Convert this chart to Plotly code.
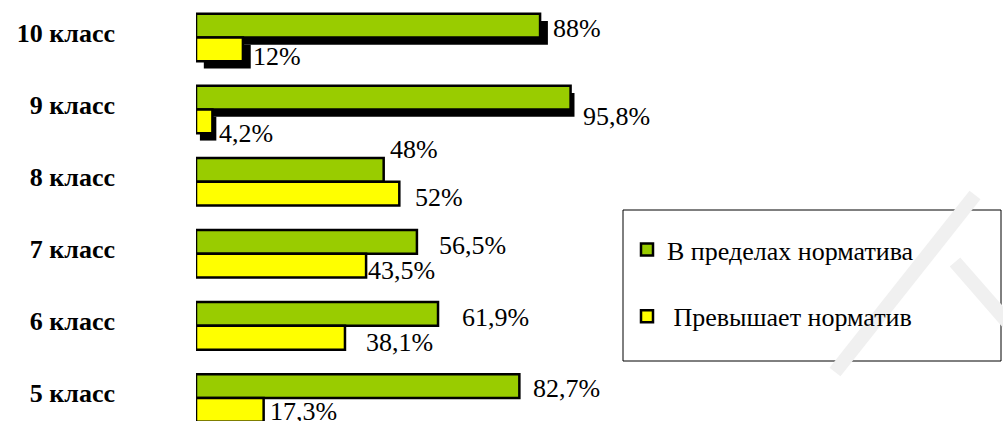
import plotly.graph_objects as go

# ---------------- data ----------------
classes = ["10 класс", "9 класс", "8 класс", "7 класс", "6 класс", "5 класс"]
within_norm = [88, 95.8, 48, 56.5, 61.9, 82.7]      # В пределах норматива, %
above_norm = [12, 4.2, 52, 43.5, 38.1, 17.3]        # Превышает норматив, %
series_names = ["В пределах норматива", "\u00a0Превышает норматив"]
shadow_classes = ["10 класс", "9 класс"]

# ---------------- style ----------------
W, H = 1003, 421
L_MARGIN, PLOT_W = 196, 391
GREEN, YELLOW = "#99CC00", "#FFFF00"
FONT = "Times New Roman, Liberation Serif, serif"
FS = 26
BW = 0.33
shadow_dx = {"10 класс": 2.0, "9 класс": 1.0}
shadow_dy = 0.1
# per-label pixel shifts (xshift, yshift): green, yellow
green_shift = {"10 класс": (11, 8.5), "9 класс": (10, -6.5), "8 класс": (4, 32),
               "7 класс": (20, 8), "6 класс": (22, 8), "5 класс": (12, 9)}
yellow_shift = {"10 класс": (8, -19.5), "9 класс": (5, -23.5), "8 класс": (14, -15.5),
                "7 класс": (0, -16.5), "6 класс": (19, -17), "5 класс": (4, -14)}


def px(x, y):
    """pixel -> paper coordinates"""
    return (x - L_MARGIN) / PLOT_W, 1 - y / H


def fmt(v):
    return f"{v:g}".replace(".", ",") + "%"


fig = go.Figure()

# shadows
sh_idx = [classes.index(c) for c in shadow_classes]
for vals, off in ((within_norm, -BW), (above_norm, 0.0)):
    fig.add_trace(go.Bar(
        y=shadow_classes, x=[vals[i] for i in sh_idx],
        base=[shadow_dx[c] for c in shadow_classes],
        orientation="h", width=BW, offset=off + shadow_dy,
        marker=dict(color="black", line=dict(width=0)),
        showlegend=False, hoverinfo="skip"))

# main bars
for vals, name, col, off in ((within_norm, series_names[0], GREEN, -BW),
                             (above_norm, series_names[1], YELLOW, 0.0)):
    fig.add_trace(go.Bar(
        y=classes, x=vals, orientation="h", name=name,
        legendgroup=name, width=BW, offset=off,
        marker=dict(color=col, line=dict(color="black", width=2.5)),
        hoverinfo="skip"))

# value labels
ann = []
for c, g, y in zip(classes, within_norm, above_norm):
    for v, sh in ((g, green_shift[c]), (y, yellow_shift[c])):
        ann.append(dict(x=v, y=c, xref="x", yref="y", text=fmt(v), showarrow=False,
                        xanchor="left", yanchor="middle", xshift=sh[0], yshift=sh[1],
                        font=dict(family=FONT, size=FS, color="black")))

# legend frame and faint watermark
shapes = []
x0, y0 = px(623, 210)
x1, y1 = px(1001, 361)
shapes.append(dict(type="rect", xref="paper", yref="paper", x0=x0, y0=y1, x1=x1, y1=y0,
                   line=dict(color="black", width=1), fillcolor="rgba(0,0,0,0)", layer="below"))
for (a, b), (c, d) in (((975, 195), (835, 372)), ((955, 262), (1010, 325))):
    p0, p1 = px(a, b), px(c, d)
    shapes.append(dict(type="line", xref="paper", yref="paper", x0=p0[0], y0=p0[1],
                       x1=p1[0], y1=p1[1], line=dict(color="#F0F0F0", width=14), layer="below"))

lx, ly = px(627, 226)
fig.update_layout(
    template="none",
    width=W, height=H, autosize=False,
    margin=dict(l=L_MARGIN, r=W - L_MARGIN - PLOT_W, t=0, b=0, pad=0),
    paper_bgcolor="white", plot_bgcolor="white",
    barmode="overlay",
    font=dict(family=FONT, size=FS, color="black"),
    xaxis=dict(range=[0, 100], visible=False, automargin=False),
    yaxis=dict(type="category", categoryorder="array", categoryarray=classes,
               range=[5.32, -0.52], showgrid=False, zeroline=False, showline=False,
               ticks="", automargin=False, ticklabelstandoff=80, ticklabelshift=5,
               tickfont=dict(family=FONT, size=FS, color="black", weight="bold")),
    legend=dict(x=lx, y=ly, xanchor="left", yanchor="top", traceorder="grouped",
                tracegroupgap=30, bgcolor="rgba(0,0,0,0)", borderwidth=0,
                font=dict(family=FONT, size=FS, color="black")),
    annotations=ann, shapes=shapes,
    hovermode=False,
)

fig.write_html("out.html")
